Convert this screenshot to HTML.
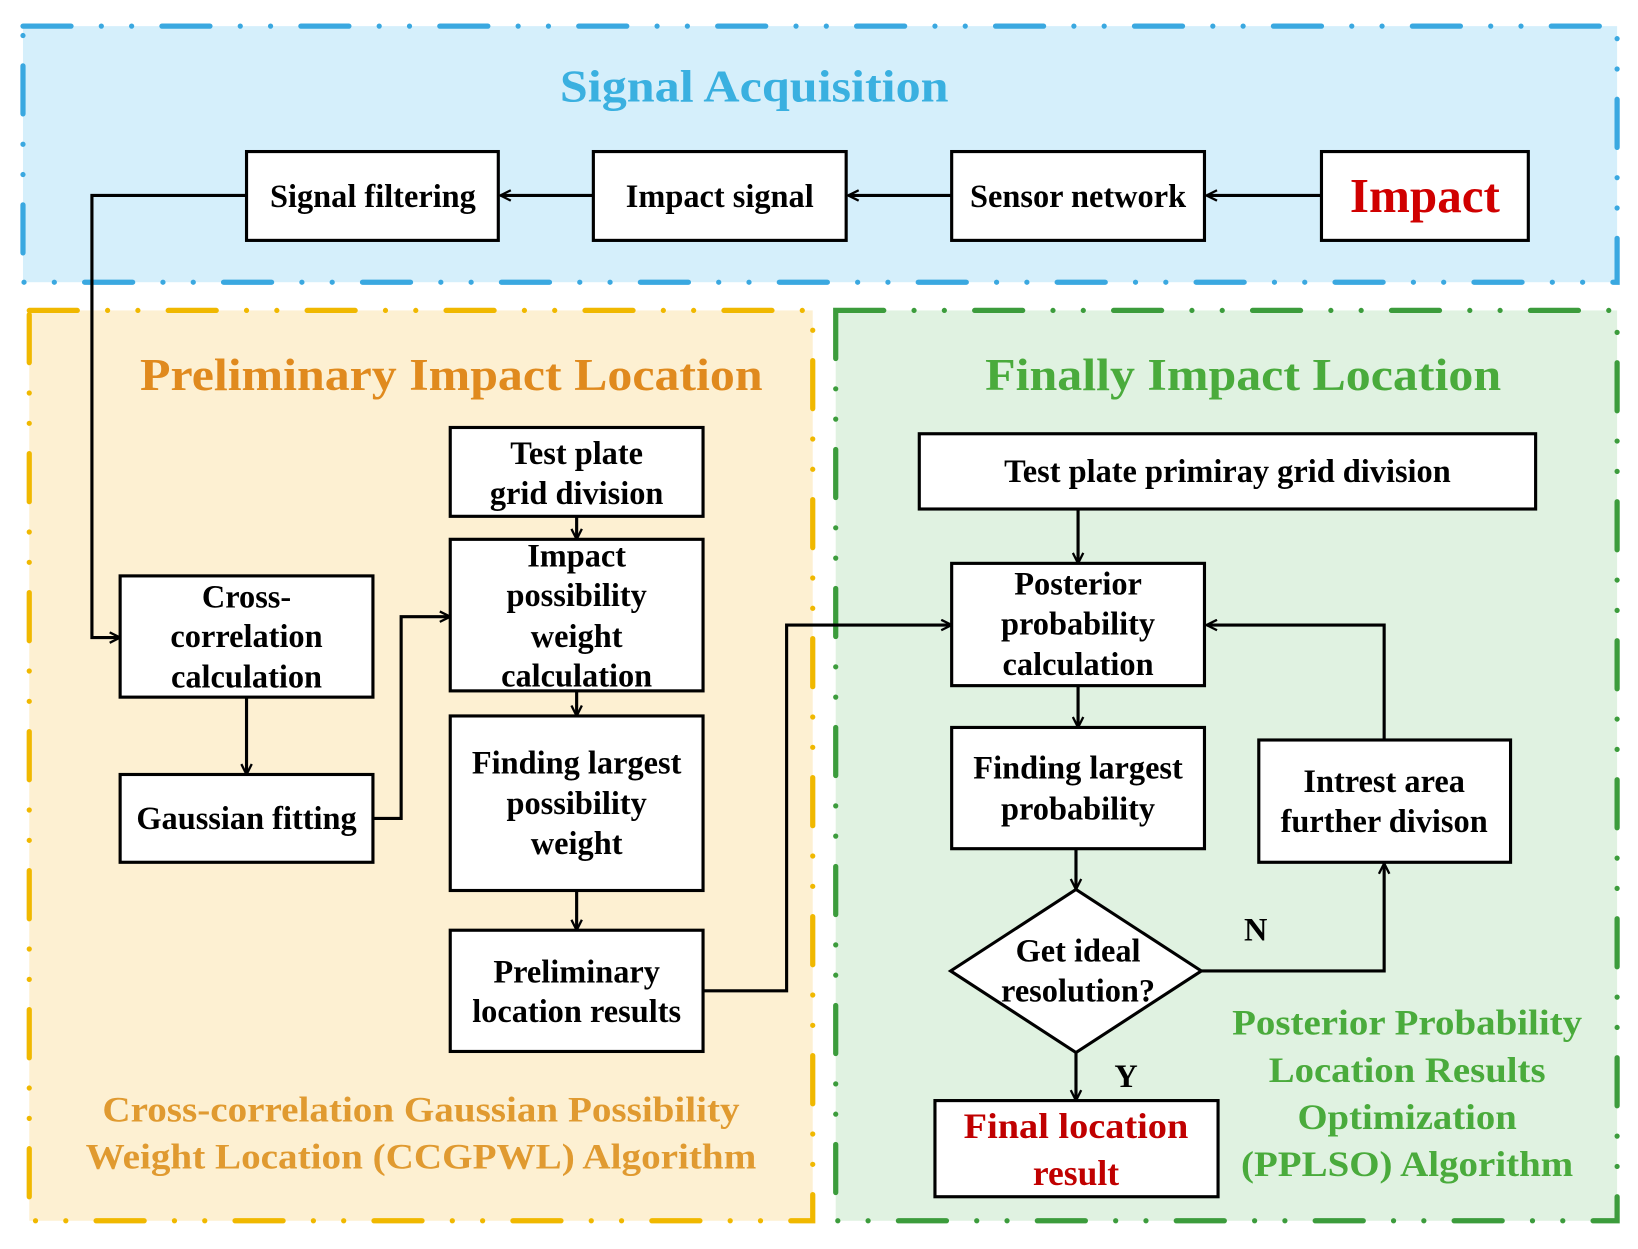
<!DOCTYPE html>
<html><head><meta charset="utf-8"><style>
html,body{margin:0;padding:0;background:#fff;}
svg{display:block;}
text{font-family:"Liberation Serif",serif;font-weight:bold;}
</style></head><body>
<svg width="1638" height="1249" viewBox="0 0 1568 1195" preserveAspectRatio="none" xmlns="http://www.w3.org/2000/svg">
<defs>
<marker id="a" viewBox="0 0 12 12" refX="11" refY="6" markerWidth="12" markerHeight="12" markerUnits="userSpaceOnUse" orient="auto">
<path d="M1,1 L11,6 L1,11" fill="none" stroke="#000" stroke-width="2.2"/>
</marker>
</defs>
<rect x="22" y="25" width="1526" height="245" fill="#d5effb"/>
<rect x="22" y="25" width="1526" height="245" fill="none" stroke="#3aa8e0" stroke-width="5" stroke-linecap="round" stroke-dasharray="46 29 0 29 0 29"/>
<rect x="28" y="297" width="750" height="871" fill="#fdf0d2"/>
<rect x="28" y="297" width="750" height="871" fill="none" stroke="#f0b800" stroke-width="5" stroke-linecap="round" stroke-dasharray="46 29 0 29 0 29"/>
<rect x="800" y="297" width="748" height="871" fill="#e0f2e1"/>
<rect x="800" y="297" width="748" height="871" fill="none" stroke="#3c9c3c" stroke-width="5" stroke-linecap="round" stroke-dasharray="46 29 0 29 0 29"/>

<text x="722" y="97" text-anchor="middle" font-size="44" fill="#3ab0e0" textLength="372" lengthAdjust="spacingAndGlyphs">Signal Acquisition</text>
<text x="432" y="373" text-anchor="middle" font-size="44" fill="#e08a1e" textLength="596" lengthAdjust="spacingAndGlyphs">Preliminary Impact Location</text>
<text x="1190" y="373" text-anchor="middle" font-size="44" fill="#4aab3c" textLength="494" lengthAdjust="spacingAndGlyphs">Finally Impact Location</text>

<g fill="#fff" stroke="#000" stroke-width="3">
<rect x="236" y="145" width="241" height="85"/>
<rect x="568" y="145" width="242" height="85"/>
<rect x="911" y="145" width="242" height="85"/>
<rect x="1265" y="145" width="198" height="85"/>
<rect x="115" y="551" width="242" height="116"/>
<rect x="115" y="741" width="242" height="84"/>
<rect x="431" y="409" width="242" height="85"/>
<rect x="431" y="516" width="242" height="145"/>
<rect x="431" y="685" width="242" height="167"/>
<rect x="431" y="890" width="242" height="116"/>
<rect x="880" y="415" width="590" height="72"/>
<rect x="911" y="539" width="242" height="117"/>
<rect x="911" y="696" width="242" height="116"/>
<rect x="1205" y="708" width="241" height="117"/>
<rect x="895" y="1053" width="271" height="92"/>
<polygon points="1030,851 1150,929 1030,1007 910,929"/>
</g>

<g fill="none" stroke="#000" stroke-width="3" marker-end="url(#a)">
<path d="M1265,187 H1155"/>
<path d="M911,187 H812"/>
<path d="M568,187 H479"/>
<path d="M236,187 H88 V610 H115"/>
<path d="M236,667 V741"/>
<path d="M357,783 H384 V590 H431"/>
<path d="M552,494 V516"/>
<path d="M552,661 V685"/>
<path d="M552,852 V890"/>
<path d="M673,948 H753 V598 H911"/>
<path d="M1032,487 V539"/>
<path d="M1032,656 V696"/>
<path d="M1030,812 V851"/>
<path d="M1150,929 H1325 V826"/>
<path d="M1325,708 V598 H1155"/>
<path d="M1030,1007 V1053"/>
</g>

<g font-size="31" fill="#000" text-anchor="middle">
<text x="357" y="198">Signal filtering</text>
<text x="689" y="198">Impact signal</text>
<text x="1032" y="198">Sensor network</text>
<text x="1364" y="203" font-size="47" fill="#d00000">Impact</text>
<text x="236" y="581">Cross-</text>
<text x="236" y="619">correlation</text>
<text x="236" y="658">calculation</text>
<text x="236" y="793">Gaussian fitting</text>
<text x="552" y="444">Test plate</text>
<text x="552" y="482">grid division</text>
<text x="552" y="542">Impact</text>
<text x="552" y="580">possibility</text>
<text x="552" y="619">weight</text>
<text x="552" y="657">calculation</text>
<text x="552" y="740">Finding largest</text>
<text x="552" y="779">possibility</text>
<text x="552" y="817">weight</text>
<text x="552" y="940">Preliminary</text>
<text x="552" y="978">location results</text>
<text x="1175" y="461">Test plate primiray grid division</text>
<text x="1032" y="569">Posterior</text>
<text x="1032" y="607">probability</text>
<text x="1032" y="646">calculation</text>
<text x="1032" y="745">Finding largest</text>
<text x="1032" y="784">probability</text>
<text x="1325" y="758">Intrest area</text>
<text x="1325" y="796">further divison</text>
<text x="1032" y="920">Get ideal</text>
<text x="1032" y="958">resolution?</text>
<text x="1202" y="900">N</text>
<text x="1078" y="1040">Y</text>
<text x="1030" y="1089" fill="#c00000" font-size="34" textLength="215" lengthAdjust="spacingAndGlyphs">Final location</text>
<text x="1030" y="1134" fill="#c00000" font-size="34">result</text>
</g>
<g font-size="34" fill="#e09a30" text-anchor="middle">
<text x="403" y="1073" textLength="610" lengthAdjust="spacingAndGlyphs">Cross-correlation Gaussian Possibility</text>
<text x="403" y="1118" textLength="642" lengthAdjust="spacingAndGlyphs">Weight Location (CCGPWL) Algorithm</text>
</g>
<g font-size="34" fill="#4aab3c" text-anchor="middle">
<text x="1347" y="990" textLength="335" lengthAdjust="spacingAndGlyphs">Posterior Probability</text>
<text x="1347" y="1035" textLength="265" lengthAdjust="spacingAndGlyphs">Location Results</text>
<text x="1347" y="1080" textLength="210" lengthAdjust="spacingAndGlyphs">Optimization</text>
<text x="1347" y="1125" textLength="318" lengthAdjust="spacingAndGlyphs">(PPLSO) Algorithm</text>
</g>
</svg>
</body></html>
